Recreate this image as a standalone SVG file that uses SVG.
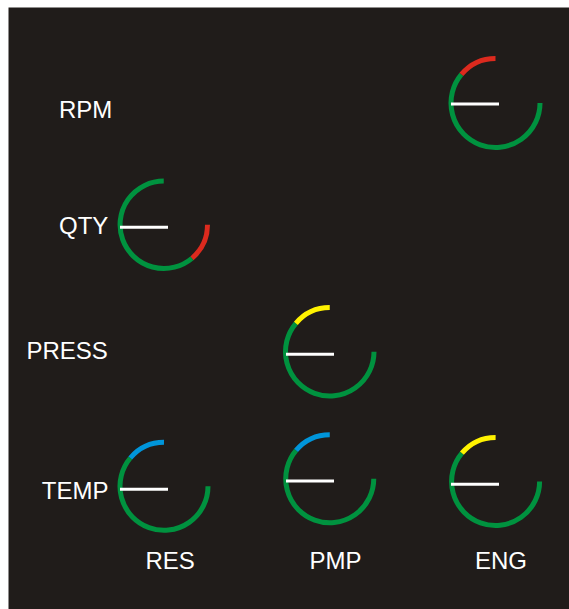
<svg xmlns="http://www.w3.org/2000/svg" width="569" height="609" viewBox="0 0 569 609">
  <style>
    .lbl { font-family: "Liberation Sans", Arial, sans-serif; font-size: 24px; fill: #ffffff; }
    .arc { fill: none; stroke-width: 5; stroke-linecap: butt; }
    .g { stroke: #00923f; }
    .r { stroke: #dc2a1e; }
    .y { stroke: #fff200; }
    .b { stroke: #0095da; }
    .ndl { stroke: #ffffff; stroke-width: 3; }
  </style>
  <rect x="0" y="0" width="569" height="609" fill="#ffffff"/>
  <rect x="8.5" y="7.5" width="561" height="602" fill="#201c1a"/>

  <g id="label-rpm"><text class="lbl" x="59" y="118.3">RPM</text></g>
  <g id="label-qty"><text class="lbl" x="59" y="233.5">QTY</text></g>
  <g id="label-press"><text class="lbl" x="26.5" y="359.3">PRESS</text></g>
  <g id="label-temp"><text class="lbl" x="41.8" y="499">TEMP</text></g>
  <g id="label-res"><text class="lbl" x="145.5" y="568.7">RES</text></g>
  <g id="label-pmp"><text class="lbl" x="309.5" y="568.7">PMP</text></g>
  <g id="label-eng"><text class="lbl" x="475" y="568.7">ENG</text></g>

  <g id="gauge-rpm">
    <path class="arc g" d="M540,103 A44.5,44.5 0 1 1 461.4,74.4"/>
    <path class="arc r" d="M461.4,74.4 A44.5,44.5 0 0 1 495.5,58.5"/>
    <line class="ndl" x1="451" y1="104" x2="499" y2="104"/>
  </g>

  <g id="gauge-qty">
    <path class="arc r" d="M207.5,224.75 A43.75,43.75 0 0 1 191.9,258.3"/>
    <path class="arc g" d="M191.9,258.3 A43.75,43.75 0 1 1 163.75,181"/>
    <line class="ndl" x1="120" y1="227.3" x2="168" y2="227.3"/>
  </g>

  <g id="gauge-press">
    <path class="arc g" d="M374,351.75 A44.25,44.25 0 1 1 295.85,323.3"/>
    <path class="arc y" d="M295.85,323.3 A44.25,44.25 0 0 1 329.75,307.5"/>
    <line class="ndl" x1="286" y1="354.3" x2="334" y2="354.3"/>
  </g>

  <g id="gauge-res">
    <path class="arc g" d="M208,486.3 A44,44 0 1 1 130.3,458"/>
    <path class="arc b" d="M130.3,458 A44,44 0 0 1 164,442.3"/>
    <line class="ndl" x1="120" y1="489.3" x2="168" y2="489.3"/>
  </g>

  <g id="gauge-pmp">
    <path class="arc g" d="M373.75,478.75 A44,44 0 1 1 296.05,450.46"/>
    <path class="arc b" d="M296.05,450.46 A44,44 0 0 1 329.75,434.75"/>
    <line class="ndl" x1="286" y1="481" x2="334" y2="481"/>
  </g>

  <g id="gauge-eng">
    <path class="arc g" d="M539.6,481.5 A44,44 0 1 1 461.9,453.2"/>
    <path class="arc y" d="M461.9,453.2 A44,44 0 0 1 495.6,437.5"/>
    <line class="ndl" x1="451" y1="484.3" x2="499" y2="484.3"/>
  </g>
</svg>
